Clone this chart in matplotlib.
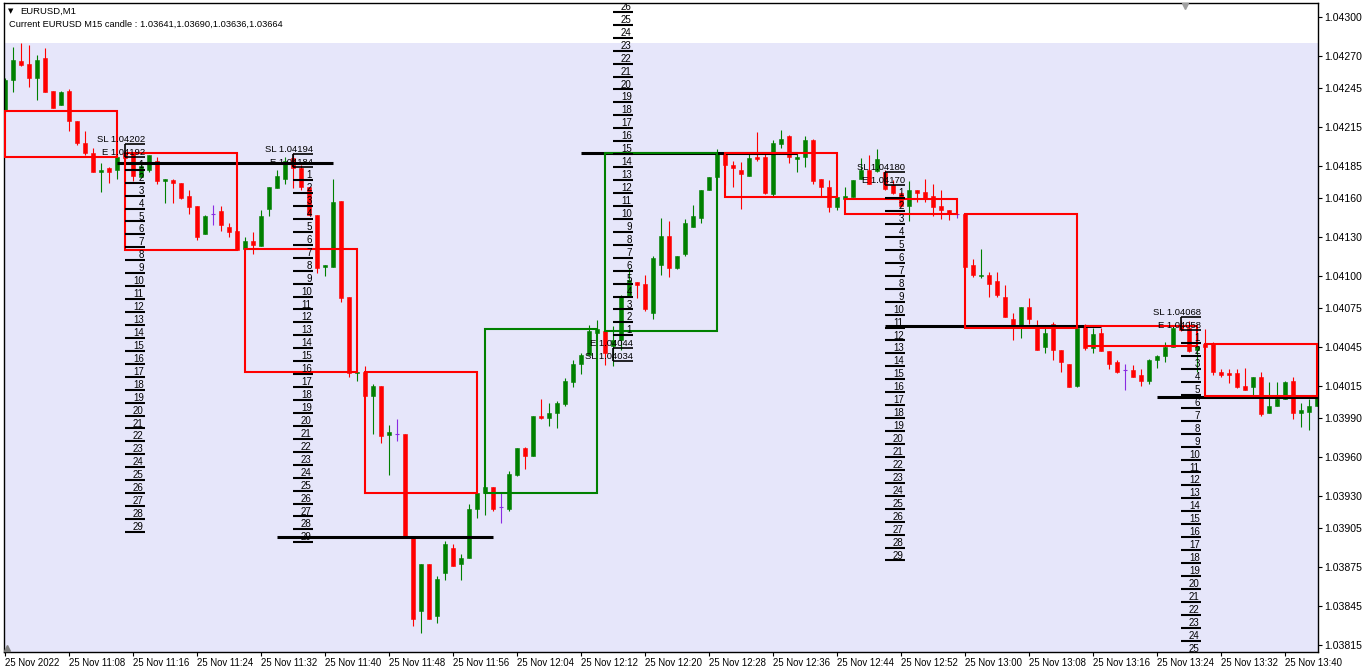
import matplotlib
matplotlib.use("Agg")
import matplotlib.pyplot as plt
from matplotlib.patches import Rectangle

# EURUSD M1 candles, 25 Nov 2022 from 11:00 (one bar per minute)
opens = [1.04227, 1.04251, 1.04266, 1.04264, 1.04253, 1.04268, 1.04243, 1.04232, 1.04243, 1.04220,
         1.04203, 1.04195, 1.04180, 1.04183, 1.04182, 1.04195, 1.04195, 1.04176, 1.04182, 1.04189,
         1.04173, 1.04174, 1.04172, 1.04162, 1.04154, 1.04132, 1.04148, 1.04150, 1.04138, 1.04135,
         1.04121, 1.04127, 1.04123, 1.04152, 1.04168, 1.04175, 1.04191, 1.04183, 1.04169, 1.04147,
         1.04107, 1.04107, 1.04158, 1.04084, 1.04025, 1.04026, 1.04007, 1.04015, 1.03977, 1.03978,
         1.03978, 1.03898, 1.03841, 1.03877, 1.03837, 1.03870, 1.03890, 1.03877, 1.03882, 1.03920,
         1.03932, 1.03937, 1.03921, 1.03920, 1.03946, 1.03967, 1.03961, 1.03992, 1.03990, 1.03994,
         1.04001, 1.04018, 1.04032, 1.04039, 1.04056, 1.04057, 1.04046, 1.04050, 1.04084, 1.04095,
         1.04094, 1.04071, 1.04108, 1.04131, 1.04106, 1.04117, 1.04138, 1.04145, 1.04166, 1.04176,
         1.04195, 1.04186, 1.04182, 1.04177, 1.04192, 1.04192, 1.04163, 1.04202, 1.04208, 1.04190,
         1.04192, 1.04205, 1.04175, 1.04169, 1.04153, 1.04159, 1.04161, 1.04175, 1.04182, 1.04181,
         1.04180, 1.04170, 1.04164, 1.04154, 1.04166, 1.04165, 1.04162, 1.04154, 1.04151, 1.04148,
         1.04148, 1.04108, 1.04100, 1.04101, 1.04096, 1.04084, 1.04067, 1.04062, 1.04076, 1.04061,
         1.04045, 1.04063, 1.04043, 1.04032, 1.04015, 1.04061, 1.04044, 1.04056, 1.04042, 1.04033,
         1.04027, 1.04027, 1.04023, 1.04019, 1.04035, 1.04038, 1.04045, 1.04062, 1.04060, 1.04043,
         1.04047, 1.04047, 1.04026, 1.04025, 1.04025, 1.04015, 1.04014, 1.04022, 1.03994, 1.03999,
         1.04005, 1.04019, 1.03994, 1.03995, 1.03999]
highs = [1.04253, 1.04277, 1.04280, 1.04278, 1.04271, 1.04276, 1.04243, 1.04243, 1.04244, 1.04220,
         1.04212, 1.04199, 1.04187, 1.04184, 1.04193, 1.04197, 1.04196, 1.04188, 1.04193, 1.04192,
         1.04175, 1.04175, 1.04172, 1.04166, 1.04154, 1.04147, 1.04155, 1.04154, 1.04141, 1.04135,
         1.04130, 1.04134, 1.04151, 1.04169, 1.04182, 1.04192, 1.04195, 1.04186, 1.04169, 1.04147,
         1.04108, 1.04175, 1.04158, 1.04084, 1.04026, 1.04030, 1.04016, 1.04015, 1.03985, 1.03989,
         1.03978, 1.03898, 1.03877, 1.03877, 1.03868, 1.03895, 1.03893, 1.03885, 1.03924, 1.03932,
         1.03937, 1.03937, 1.03932, 1.03949, 1.03967, 1.03968, 1.03992, 1.04005, 1.04002, 1.04003,
         1.04021, 1.04035, 1.04040, 1.04062, 1.04066, 1.04057, 1.04061, 1.04085, 1.04106, 1.04095,
         1.04101, 1.04115, 1.04145, 1.04142, 1.04115, 1.04144, 1.04155, 1.04166, 1.04176, 1.04198,
         1.04195, 1.04189, 1.04188, 1.04195, 1.04211, 1.04195, 1.04205, 1.04213, 1.04209, 1.04195,
         1.04208, 1.04206, 1.04175, 1.04174, 1.04161, 1.04169, 1.04174, 1.04191, 1.04193, 1.04198,
         1.04182, 1.04174, 1.04165, 1.04173, 1.04166, 1.04175, 1.04171, 1.04166, 1.04151, 1.04148,
         1.04148, 1.04113, 1.04121, 1.04103, 1.04103, 1.04093, 1.04071, 1.04076, 1.04083, 1.04066,
         1.04061, 1.04064, 1.04043, 1.04032, 1.04061, 1.04063, 1.04060, 1.04060, 1.04042, 1.04035,
         1.04032, 1.04031, 1.04028, 1.04036, 1.04039, 1.04049, 1.04061, 1.04066, 1.04065, 1.04048,
         1.04059, 1.04049, 1.04028, 1.04028, 1.04028, 1.04029, 1.04022, 1.04026, 1.04018, 1.04018,
         1.04019, 1.04022, 1.04002, 1.04005, 1.04007]
lows = [1.04226, 1.04242, 1.04262, 1.04246, 1.04236, 1.04242, 1.04230, 1.04232, 1.04212, 1.04201,
        1.04193, 1.04180, 1.04165, 1.04172, 1.04175, 1.04189, 1.04173, 1.04176, 1.04180, 1.04171,
        1.04156, 1.04156, 1.04159, 1.04148, 1.04128, 1.04132, 1.04139, 1.04135, 1.04130, 1.04120,
        1.04120, 1.04117, 1.04123, 1.04146, 1.04168, 1.04171, 1.04168, 1.04166, 1.04147, 1.04102,
        1.04100, 1.04107, 1.04080, 1.04022, 1.04019, 1.04007, 1.03978, 1.03971, 1.03946, 1.03972,
        1.03898, 1.03829, 1.03824, 1.03835, 1.03832, 1.03865, 1.03876, 1.03865, 1.03882, 1.03913,
        1.03915, 1.03918, 1.03909, 1.03918, 1.03945, 1.03951, 1.03961, 1.03989, 1.03984, 1.03982,
        1.03999, 1.04014, 1.04024, 1.04039, 1.04056, 1.04031, 1.04030, 1.04043, 1.04084, 1.04083,
        1.04073, 1.04067, 1.04101, 1.04099, 1.04105, 1.04115, 1.04138, 1.04141, 1.04166, 1.04176,
        1.04170, 1.04169, 1.04152, 1.04177, 1.04189, 1.04163, 1.04162, 1.04199, 1.04187, 1.04180,
        1.04184, 1.04171, 1.04162, 1.04149, 1.04151, 1.04159, 1.04161, 1.04175, 1.04171, 1.04180,
        1.04166, 1.04163, 1.04153, 1.04142, 1.04157, 1.04157, 1.04146, 1.04144, 1.04143, 1.04145,
        1.04107, 1.04099, 1.04098, 1.04084, 1.04084, 1.04068, 1.04050, 1.04052, 1.04063, 1.04043,
        1.04040, 1.04035, 1.04026, 1.04014, 1.04014, 1.04043, 1.04040, 1.04042, 1.04028, 1.04025,
        1.04012, 1.04022, 1.04015, 1.04016, 1.04029, 1.04033, 1.04045, 1.04057, 1.04041, 1.04026,
        1.04045, 1.04023, 1.04022, 1.04017, 1.04013, 1.04012, 1.04007, 1.03992, 1.03994, 1.03999,
        1.04005, 1.03989, 1.03983, 1.03981, 1.03999]
closes = [1.04251, 1.04267, 1.04263, 1.04253, 1.04267, 1.04242, 1.04230, 1.04242, 1.04220, 1.04203,
          1.04195, 1.04180, 1.04182, 1.04180, 1.04192, 1.04191, 1.04177, 1.04185, 1.04193, 1.04173,
          1.04175, 1.04172, 1.04160, 1.04153, 1.04130, 1.04146, 1.04148, 1.04139, 1.04134, 1.04120,
          1.04127, 1.04124, 1.04146, 1.04169, 1.04177, 1.04189, 1.04183, 1.04169, 1.04147, 1.04106,
          1.04108, 1.04157, 1.04083, 1.04025, 1.04026, 1.04007, 1.04015, 1.03976, 1.03979, 1.03978,
          1.03898, 1.03835, 1.03877, 1.03835, 1.03866, 1.03893, 1.03876, 1.03882, 1.03920, 1.03932,
          1.03937, 1.03920, 1.03921, 1.03947, 1.03967, 1.03961, 1.03992, 1.03990, 1.03994, 1.04002,
          1.04019, 1.04032, 1.04039, 1.04057, 1.04059, 1.04040, 1.04050, 1.04084, 1.04097, 1.04093,
          1.04074, 1.04114, 1.04131, 1.04106, 1.04115, 1.04141, 1.04146, 1.04166, 1.04176, 1.04195,
          1.04186, 1.04183, 1.04179, 1.04191, 1.04190, 1.04164, 1.04203, 1.04206, 1.04192, 1.04192,
          1.04205, 1.04173, 1.04169, 1.04153, 1.04161, 1.04162, 1.04174, 1.04182, 1.04171, 1.04190,
          1.04167, 1.04164, 1.04154, 1.04166, 1.04164, 1.04159, 1.04153, 1.04151, 1.04148, 1.04148,
          1.04107, 1.04101, 1.04101, 1.04094, 1.04085, 1.04068, 1.04061, 1.04076, 1.04067, 1.04043,
          1.04056, 1.04043, 1.04033, 1.04014, 1.04060, 1.04044, 1.04055, 1.04042, 1.04032, 1.04026,
          1.04027, 1.04022, 1.04019, 1.04035, 1.04038, 1.04045, 1.04060, 1.04058, 1.04042, 1.04046,
          1.04045, 1.04026, 1.04023, 1.04023, 1.04014, 1.04012, 1.04022, 1.03993, 1.03999, 1.04005,
          1.04018, 1.03994, 1.03996, 1.03999, 1.04007]

x_labels = ["25 Nov 2022", "25 Nov 11:08", "25 Nov 11:16", "25 Nov 11:24", "25 Nov 11:32",
            "25 Nov 11:40", "25 Nov 11:48", "25 Nov 11:56", "25 Nov 12:04", "25 Nov 12:12",
            "25 Nov 12:20", "25 Nov 12:28", "25 Nov 12:36", "25 Nov 12:44", "25 Nov 12:52",
            "25 Nov 13:00", "25 Nov 13:08", "25 Nov 13:16", "25 Nov 13:24", "25 Nov 13:32",
            "25 Nov 13:40"]
price_ticks = [1.04300, 1.04270, 1.04245, 1.04215, 1.04185, 1.04160, 1.04130, 1.04100, 1.04075,
               1.04045, 1.04015, 1.03990, 1.03960, 1.03930, 1.03905, 1.03875, 1.03845, 1.03815]

header_symbol = "EURUSD,M1"
header_info = "Current EURUSD M15 candle : 1.03641,1.03690,1.03636,1.03664"

# thick black levels (price, first bar)
level_price = [1.04187, 1.03898, 1.04195, 1.04061, 1.04006]
level_start = [14, 34, 72, 110, 144]
level_len = 27

# pip ladders: first bar, entry, stop loss, number of steps
ladder_start = [15, 36, 76, 110, 147]
ladder_entry = [1.04192, 1.04184, 1.04044, 1.04170, 1.04058]
ladder_sl = [1.04202, 1.04194, 1.04034, 1.04180, 1.04068]
ladder_steps = [29, 29, 26, 29, 25]
pip = 0.0001

bg_top = 1.04280  # lavender area below this price

GREEN = "#008000"
RED = "#FF0000"
DOJI = "#8A2BE2"

plt.rcParams['font.family'] = ['Liberation Sans', 'DejaVu Sans']

fig = plt.figure(figsize=(13.66, 6.66), dpi=100)
ax = fig.add_axes([4 / 1366, 14 / 666, 1314 / 1366, 649 / 666])
ax.set_xlim(-0.125, 164.125)
ax.set_ylim(1.0380927, 1.0431082)
ax.axhspan(1.0370, bg_top, color="#E6E6FA", lw=0, zorder=0)

# candles
n = len(opens)
for i in range(n):
    o, h, l, c = opens[i], highs[i], lows[i], closes[i]
    if c > o:
        col = GREEN
    elif c < o:
        col = RED
    else:
        col = DOJI
    ax.vlines(i, l, h, color=col, lw=0.8, zorder=2)
    if o == c:
        ax.hlines(o, i - 0.3, i + 0.3, color=col, lw=0.8, zorder=2)
    else:
        ax.add_patch(Rectangle((i - 0.3, min(o, c)), 0.6, abs(c - o),
                               fc=col, ec=col, lw=0.4, zorder=2))

# thick levels sit under the M15 boxes
for p, s in zip(level_price, level_start):
    ax.hlines(p, s, s + level_len, color="black", lw=2.2, zorder=2.5)

# M15 bodies as boxes
for k in range(0, n, 15):
    o = opens[k]
    c = closes[min(k + 14, n - 1)]
    col = GREEN if c > o else RED
    ax.add_patch(Rectangle((k, min(o, c)), 14, abs(c - o), fill=False,
                           ec=col, lw=1.5, zorder=3))

for s, e, sl, steps in zip(ladder_start, ladder_entry, ladder_sl, ladder_steps):
    sgn = -1 if sl > e else 1
    x0, x1 = s, s + 2.5
    ax.hlines([sl, e], x0, x1, color="black", lw=1.2, zorder=5)
    ax.vlines(x0, min(sl, e), max(sl, e), color="black", lw=1.2, zorder=5)
    ax.text(x1, sl + 0.000015, "SL %.5f" % sl, ha="right", va="baseline",
            fontsize=6.8, zorder=6, clip_on=True)
    ax.text(x1, e + 0.000015, "E %.5f" % e, ha="right", va="baseline",
            fontsize=6.8, zorder=6, clip_on=True)
    for k in range(1, steps + 1):
        p = e + sgn * k * pip
        ax.hlines(p, x0, x1, color="black", lw=1.5, zorder=5)
        ax.text(x1 - 0.15, p + 0.000015, str(k), ha="right", va="baseline",
                fontsize=7, zorder=6, clip_on=True)

# axes
ax.set_xticks(range(0, 161, 8))
ax.set_xticklabels(x_labels)
for lbl in ax.get_xticklabels():
    lbl.set_ha("left")
ax.tick_params(axis="x", length=3, width=0.8, pad=1, labelsize=6.9, direction="out")
ax.yaxis.tick_right()
ax.set_yticks(price_ticks)
ax.set_yticklabels(["%.5f" % v for v in price_ticks])
ax.tick_params(axis="y", length=3, width=0.8, pad=1.5, labelsize=7.6, direction="out")
for sp in ax.spines.values():
    sp.set_color("black")
    sp.set_linewidth(1)

# chart shift markers
ax.plot([0.899], [0.996], marker="v", ms=5, color="#A0A0A0", transform=ax.transAxes,
        clip_on=False, zorder=7)
ax.plot([0.002], [0.006], marker="^", ms=4, color="#808080", transform=ax.transAxes,
        clip_on=False, zorder=7)

# header
fig.text(8 / 1366, 1 - 11 / 666, "\u25BC", fontsize=5, va="center", ha="left",
         family="DejaVu Sans")
fig.text(20 / 1366, 1 - 11 / 666, header_symbol, fontsize=6.8, va="center", ha="left")
fig.text(9 / 1366, 1 - 24 / 666, header_info, fontsize=6.7, va="center", ha="left")

fig.savefig("out.png", dpi=100)
